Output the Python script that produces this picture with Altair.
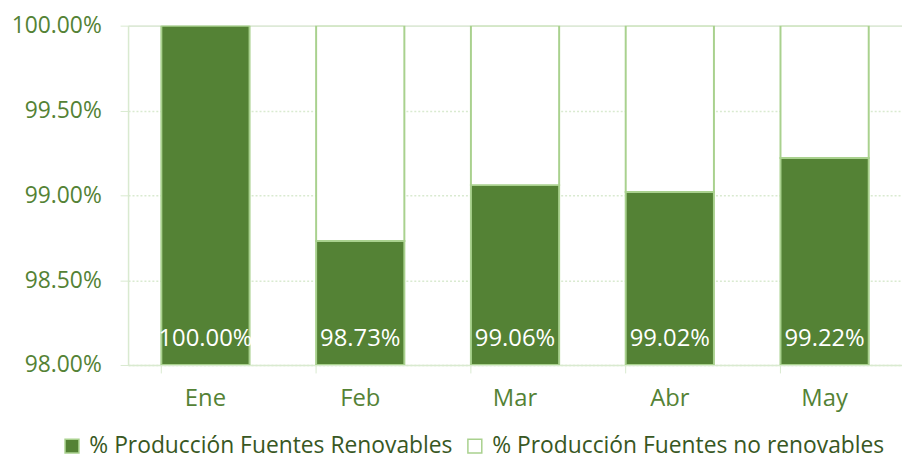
import altair as alt
import pandas as pd

months = ["Ene", "Feb", "Mar", "Abr", "May"]
renovables = [100.00, 98.73, 99.06, 99.02, 99.22]
series = ["% Producción Fuentes Renovables", "% Producción Fuentes no renovables"]
y_ticks = [98.0, 98.5, 99.0, 99.5, 100.0]

rows = []
for m, v in zip(months, renovables):
    rows.append({"mes": m, "serie": series[0], "ini": 98.0, "fin": v, "valor": v})
    rows.append({"mes": m, "serie": series[1], "ini": v, "fin": 100.0, "valor": round(100 - v, 2)})
df = pd.DataFrame(rows)
df_lab = pd.DataFrame({"mes": months, "valor": renovables})

FONT = "Open Sans"
FS = 24
GREEN = "#548235"
DARK = "#385723"
LIGHT = "#A9D18E"
GRID = "#D9EAD0"

x = alt.X("mes:N", sort=months, title=None,
          scale=alt.Scale(paddingInner=0.43, paddingOuter=0.215),
          axis=alt.Axis(labelAngle=0, labelFont=FONT, labelFontSize=FS, labelColor=GREEN,
                        labelPadding=14, ticks=True, tickSize=8, tickColor=GRID, bandPosition=0,
                        domainColor=GRID, domainWidth=1.5, grid=False))
y_scale = alt.Scale(domain=[98, 100], nice=False, zero=False)

bars = alt.Chart(df).mark_bar(stroke=LIGHT, strokeWidth=2, clip=True).encode(
    x=x,
    y=alt.Y("ini:Q", scale=y_scale, title=None,
            axis=alt.Axis(values=y_ticks, labelExpr="format(datum.value, '.2f') + '%'",
                          labelFont=FONT, labelFontSize=23, labelColor=GREEN, labelPadding=19,
                          tickSize=8, tickColor=GRID, domainColor=GRID, domainWidth=1.5,
                          gridColor=GRID, gridWidth=1.5,
                          gridDash={"condition": {"test": "datum.value == 100", "value": []},
                                    "value": [2, 2]})),
    y2="fin:Q",
    color=alt.Color("serie:N", scale=alt.Scale(domain=series, range=[GREEN, "#FFFFFF"]),
                    legend=alt.Legend(title=None, orient="none", legendX=-68, legendY=412,
                                      direction="horizontal", symbolType="square",
                                      symbolSize=196, symbolStrokeColor=LIGHT,
                                      symbolStrokeWidth=1.5, labelFont=FONT, labelFontSize=23,
                                      labelColor=DARK, labelOffset=6, columnPadding=10,
                                      labelLimit=600, symbolOpacity=1)),
)

labels = alt.Chart(df_lab).transform_calculate(
    t="format(datum.valor, '.2f') + '%'"
).mark_text(color="white", font=FONT, fontSize=FS, baseline="alphabetic", dy=-19).encode(
    x=alt.X("mes:N", sort=months),
    y=alt.datum(98),
    text="t:N",
)

chart = alt.layer(bars, labels).properties(
    width=780, height=342,
    autosize=alt.AutoSizeParams(type="none"),
    padding={"left": 121, "top": 16, "right": 0, "bottom": 94},
).configure_view(stroke=None).configure(background="white")

chart.save("out.html", embed_options={"renderer": "svg", "actions": False})
